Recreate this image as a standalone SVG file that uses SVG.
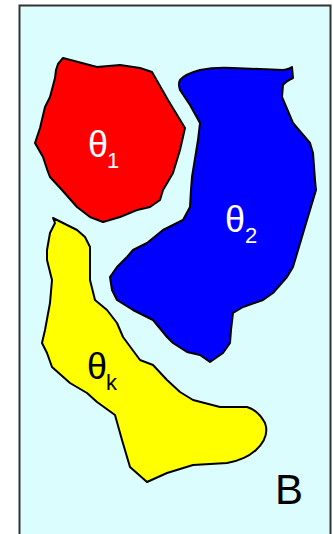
<svg xmlns="http://www.w3.org/2000/svg" width="334" height="534" viewBox="0 0 334 534">
<style>
.blob{stroke:#000;stroke-width:2;stroke-linejoin:round}
.t{font-family:"Liberation Sans",Arial,sans-serif}
.g{font-size:36px}
.s{font-size:22px}
</style>
<rect width="334" height="534" fill="#fff"/>
<rect x="19.5" y="5.5" width="311" height="540" fill="#dcfdfd" stroke="#333" stroke-width="2"/>
<g id="region1">
<path class="blob" fill="#ff0000" d="M63,58 L97,67 L120,65 L140,68 L152,72 L168,100 L185,128 L180,150 L173,173 L166,185 L163,190 L160,200 L150,207 L137,210 L120,217 L103,222 L90,217 L77,207 L62,190 L50,177 L48,172 L43,157 L35,143 L40,128 L45,107 L50,97 L55,78 L56,70 L58,64 Z"/>
<text class="t g" x="88" y="157" fill="#fff">θ</text>
<text class="t s" x="107" y="168" fill="#fff">1</text>
</g>
<g id="region2">
<path class="blob" fill="#0000ff" d="M180,80 Q185,74 200,70 Q215,67 233,68 L283,70 Q290,69 292,67 L293,78 Q285,82 283,85 L282,97 L293,123 L310,143 L313,153 L315,180 L316,190 L307,220 L293,267 L287,277 L273,293 L263,300 L243,307 L233,313 L231,330 L230,343 L223,353 L210,362 L200,355 L187,352 L173,343 L167,337 L153,320 L133,310 L117,300 L112,290 L110,277 L117,267 L127,257 L133,250 L147,243 L163,230 L183,220 L190,207 L191,190 L192,177 L198,140 L200,123 L190,105 L180,90 Q178,84 180,80 Z"/>
<text class="t g" x="225" y="232" fill="#fff">θ</text>
<text class="t s" x="245" y="243" fill="#fff">2</text>
</g>
<g id="regionk">
<path class="blob" fill="#ffff00" d="M53,218 L55,223 L50,233 L47,250 L47,260 L52,280 L50,303 L45,330 L42,343 L47,353 L52,367 L70,383 L87,393 L97,402 L115,415 L122,440 L130,467 L147,482 L167,473 L193,465 L227,463 Q245,460 256,450 Q270,437 265,423 Q258,410 247,407 L220,407 L193,400 L180,392 L167,380 L153,365 L140,360 L123,337 L117,323 L107,310 L95,300 L90,280 L90,247 L85,237 L77,230 L63,223 Z"/>
<text class="t g" x="87" y="379" fill="#000">θ</text>
<text class="t s" x="106" y="390" fill="#000">k</text>
</g>
<text class="t" x="275" y="504" font-size="42" fill="#000">B</text>
</svg>
